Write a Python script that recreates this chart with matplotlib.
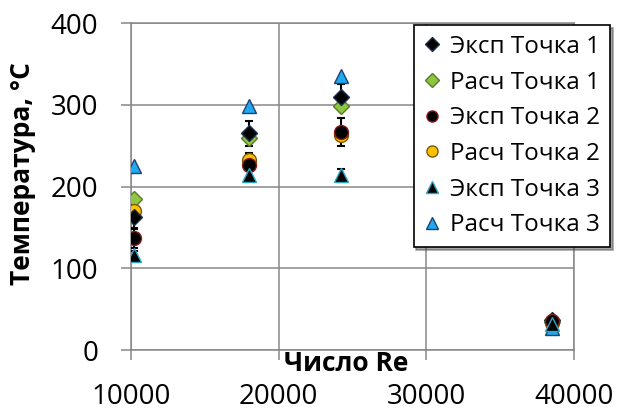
import matplotlib
matplotlib.use("Agg")
import matplotlib.pyplot as plt
from matplotlib.lines import Line2D

plt.rcParams['font.family'] = ['Open Sans', 'DejaVu Sans']

# Data
re = [10200, 18000, 24200, 38500]
exp1 = [163, 265, 310, 37]
calc1 = [185, 260, 298, 35]
exp2 = [137, 226, 267, 36]
calc2 = [170, 232, 263, 33]
exp3 = [116, 214, 214, 32]
calc3 = [225, 298, 335, 27]
exp1_err = [15, 15, 15, 5]
exp2_err = [12, 15, 17, 5]
exp3_err = [5, 5, 8, 3]

labels = ['Эксп Точка 1', 'Расч Точка 1', 'Эксп Точка 2',
          'Расч Точка 2', 'Эксп Точка 3', 'Расч Точка 3']
xticks = [10000, 20000, 30000, 40000]
yticks = [0, 100, 200, 300, 400]

fig = plt.figure(figsize=(6.21, 4.12), dpi=100)
ax = fig.add_axes([0.211, 0.150, 0.713, 0.794])

grey = '#878787'
eb = dict(ecolor='black', elinewidth=1.5, capsize=3, capthick=1.5, linestyle='none')

# marker styles per series, legend order
styles = [
    dict(marker='D', ms=8.5, mfc='black', mec='#1f2f4f'),
    dict(marker='D', ms=8.5, mfc='#8dc63f', mec='#5a7a2a'),
    dict(marker='o', ms=10, mfc='black', mec='#8b1a1a'),
    dict(marker='o', ms=10, mfc='#ffc000', mec='#7a5a00'),
    dict(marker='^', ms=10, mfc='black', mec='#2aa7c9'),
    dict(marker='^', ms=10, mfc='#1eaaf1', mec='#1f3f6f'),
]

ax.errorbar(re, exp1, yerr=exp1_err, zorder=3, **styles[0], **eb)
ax.plot(re, calc1, linestyle='none', zorder=3, **styles[1])
ax.errorbar(re, exp2, yerr=exp2_err, zorder=3, **styles[2], **eb)
ax.plot(re, calc2, linestyle='none', zorder=3, **styles[3])
ax.errorbar(re, exp3, yerr=exp3_err, zorder=3, **styles[4], **eb)
ax.plot(re, calc3, linestyle='none', zorder=3, **styles[5])

ax.set_xlim(10000, 40000)
ax.set_ylim(0, 400)
ax.set_xticks(xticks)
ax.set_yticks(yticks)
ax.grid(True, color=grey, linewidth=1.1)
ax.set_axisbelow(True)
for s in ax.spines.values():
    s.set_color(grey)
    s.set_linewidth(1.1)
ax.tick_params(axis='both', direction='out', length=7.5, width=1.1, color=grey,
               labelsize=20)
ax.tick_params(axis='y', pad=16)
ax.tick_params(axis='x', pad=16)

ax.set_xlabel('Число Re', fontsize=19, fontweight='bold')
ax.xaxis.label.set_va('center')
ax.xaxis.set_label_coords(0.487, -0.04)
ax.set_ylabel('Температура, °C', fontsize=19, fontweight='bold')
ax.yaxis.label.set_va('center')
ax.yaxis.set_label_coords(-0.245, 0.54)

handles = []
for st in styles:
    st2 = dict(st)
    st2['ms'] = st['ms'] * 0.8
    handles.append(Line2D([], [], linestyle='none', **st2))
leg = fig.legend(handles, labels, loc='upper right', bbox_to_anchor=(0.982, 0.939),
                 fontsize=17.5, numpoints=1, handlelength=0.7, handletextpad=0.4,
                 labelspacing=0.48, borderpad=0.4, borderaxespad=0,
                 fancybox=False, shadow=True, framealpha=1)
leg.get_frame().set_edgecolor('black')
leg.get_frame().set_linewidth(1.2)

fig.savefig('out.png', dpi=100)
